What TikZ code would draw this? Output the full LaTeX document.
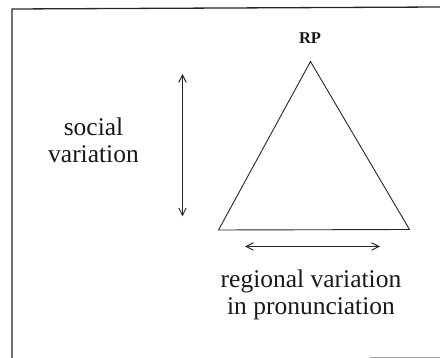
\documentclass[tikz,border=0pt]{standalone}
\usepackage{fontspec}
\setmainfont{Liberation Serif}
\usetikzlibrary{arrows.meta}
\begin{document}
\begin{tikzpicture}[x=1pt,y=-1pt,
  frameline/.style={line width=1.3pt,black!85},
  triline/.style={line width=0.9pt,black!85,line join=miter},
  twoway/.style={line width=0.9pt,black!85,{Straight Barb[length=7.5pt,width=7.5pt]}-{Straight Barb[length=7.5pt,width=7.5pt]}},
  lbl/.style={font=\fontsize{25.5}{27}\selectfont,align=center,inner sep=0pt,anchor=base,text=black!90},
  toplbl/.style={font=\fontsize{16.5}{18}\selectfont\bfseries,inner sep=0pt,anchor=base,text=black!90}]
\useasboundingbox (0,0) rectangle (440,358);
% frame
\coordinate (fbl) at (12,358);
\coordinate (ftl) at (12,9);
\coordinate (ftr) at (440,7);
\coordinate (fbr) at (440,357);
\coordinate (fbm) at (370,357);
\draw[frameline] (fbl) -- (ftl) -- (ftr);
\draw[line width=0.8pt,black!35] (fbm) -- (fbr);
% triangle
\coordinate (apex) at (310.5,61.5);
\coordinate (bl) at (218.5,230);
\coordinate (br) at (409.5,229.5);
\draw[triline] (apex) -- (bl) -- (br) -- cycle;
% arrows
\coordinate (vt) at (182.5,74);
\coordinate (vb) at (182.5,216.5);
\draw[twoway] (vt) -- (vb);
\coordinate (hl) at (245,246.5);
\coordinate (hr) at (380,246.5);
\draw[twoway] (hl) -- (hr);
% labels (base anchor = baseline of the last line)
\node[toplbl] (rp) at (310,43.5) {RP};
\node[lbl] (social) at (93.5,163) {social\\variation};
\node[lbl] (regional) at (311,315) {regional variation\\in pronunciation};
\end{tikzpicture}
\end{document}
